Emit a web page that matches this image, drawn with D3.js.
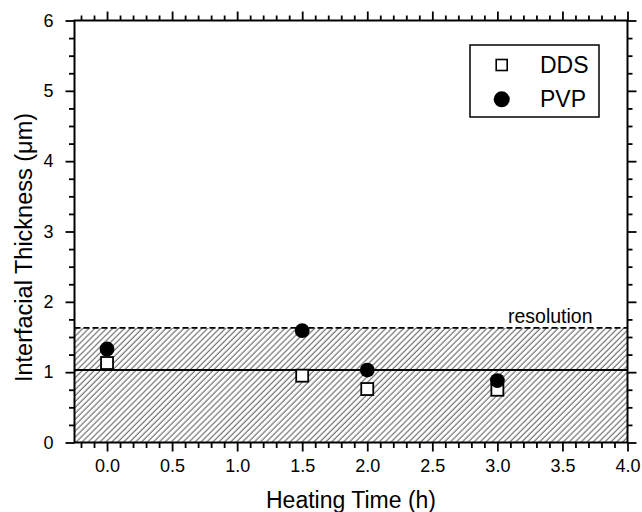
<!DOCTYPE html>
<html>
<head>
<meta charset="utf-8">
<script src="https://cdn.jsdelivr.net/npm/d3@7"></script>
<style>
  body { margin: 0; background: #fff; }
  svg { display: block; font-family: "Liberation Sans", Arial, sans-serif; }
</style>
</head>
<body>
<div id="main-content"></div>
<script>
// values
const hours = [0, 1.5, 2, 3];
const dds = [1.13, 0.95, 0.76, 0.75];
const pvp = [1.33, 1.59, 1.03, 0.88];
const resolutionLevel = 1.63;
const meanLevel = 1.03;
const xTicks = [0, 0.5, 1, 1.5, 2, 2.5, 3, 3.5, 4];
const yTicks = [0, 1, 2, 3, 4, 5, 6];
const seriesNames = ["DDS", "PVP"];

const width = 642, height = 512;
const plotLeft = 74.5, plotRight = 627.5, plotTop = 20.5, plotBottom = 442.5;
const fontFamily = '"Liberation Sans", Arial, sans-serif';

const svg = d3.select("#main-content")
  .append("svg")
  .attr("width", width)
  .attr("height", height);

const x = d3.scaleLinear().domain([-0.25, 4]).range([plotLeft, plotRight]);
const y = d3.scaleLinear().domain([0, 6]).range([plotBottom, plotTop]);

// hatch pattern for the resolution band
const defs = svg.append("defs");
defs.append("pattern")
  .attr("id", "hatch")
  .attr("patternUnits", "userSpaceOnUse")
  .attr("width", 4.2)
  .attr("height", 10)
  .attr("patternTransform", "rotate(45)")
  .append("line")
  .attr("x1", 1).attr("y1", 0)
  .attr("x2", 1).attr("y2", 10)
  .attr("stroke", "#444")
  .attr("stroke-width", 0.9);

svg.append("rect")
  .attr("x", x(-0.25))
  .attr("y", y(resolutionLevel))
  .attr("width", x(4) - x(-0.25))
  .attr("height", y(0) - y(resolutionLevel))
  .attr("fill", "url(#hatch)");

svg.append("line")
  .attr("x1", x(-0.25)).attr("x2", x(4))
  .attr("y1", y(resolutionLevel)).attr("y2", y(resolutionLevel))
  .attr("stroke", "#000")
  .attr("stroke-width", 1.6)
  .attr("stroke-dasharray", "6,3");

svg.append("line")
  .attr("x1", x(-0.25)).attr("x2", x(4))
  .attr("y1", y(meanLevel)).attr("y2", y(meanLevel))
  .attr("stroke", "#000")
  .attr("stroke-width", 2);

svg.append("text")
  .attr("x", 508)
  .attr("y", y(resolutionLevel) - 5)
  .attr("font-size", 19.5)
  .text("resolution");

// markers
const sq = 12;
svg.selectAll("rect.dds")
  .data(hours.map((h, i) => ({h: h, v: dds[i]})))
  .enter()
  .append("rect")
  .attr("class", "dds")
  .attr("x", d => x(d.h) - sq / 2)
  .attr("y", d => y(d.v) - sq / 2)
  .attr("width", sq)
  .attr("height", sq)
  .attr("fill", "#fff")
  .attr("stroke", "#000")
  .attr("stroke-width", 1.8);

svg.selectAll("circle.pvp")
  .data(hours.map((h, i) => ({h: h, v: pvp[i]})))
  .enter()
  .append("circle")
  .attr("class", "pvp")
  .attr("cx", d => x(d.h))
  .attr("cy", d => y(d.v))
  .attr("r", 7.4)
  .attr("fill", "#000");

// axes: major + minor ticks
const minorX = d3.range(-0.2, 4.0001, 0.1).map(v => +v.toFixed(1)).filter(v => !xTicks.includes(v));
const minorY = d3.range(0.25, 6, 0.25).filter(v => !yTicks.includes(v));

function addAxis(axis, tx, ty) {
  const g = svg.append("g")
    .attr("transform", `translate(${tx},${ty})`)
    .call(axis)
    .attr("font-family", fontFamily);
  g.select(".domain").remove();
  g.selectAll("line").attr("stroke", "#000").attr("stroke-width", 1.8);
  return g;
}

addAxis(d3.axisBottom(x).tickValues(xTicks).tickSize(9).tickPadding(8).tickFormat(d3.format(".1f")), 0, plotBottom)
  .selectAll("text").attr("font-size", 18).attr("fill", "#000");
addAxis(d3.axisBottom(x).tickValues(minorX).tickSize(5.5).tickFormat(""), 0, plotBottom);
addAxis(d3.axisBottom(x).tickValues(xTicks).tickSize(-9).tickFormat(""), 0, plotTop);
addAxis(d3.axisBottom(x).tickValues(minorX).tickSize(-5).tickFormat(""), 0, plotTop);

addAxis(d3.axisLeft(y).tickValues(yTicks).tickSize(9).tickPadding(12).tickFormat(d3.format("d")), plotLeft, 0)
  .selectAll("text").attr("font-size", 18).attr("fill", "#000");
addAxis(d3.axisLeft(y).tickValues(minorY).tickSize(5.5).tickFormat(""), plotLeft, 0);
addAxis(d3.axisLeft(y).tickValues(yTicks).tickSize(-9).tickFormat(""), plotRight, 0);
addAxis(d3.axisLeft(y).tickValues(minorY).tickSize(-5).tickFormat(""), plotRight, 0);

// frame
svg.append("rect")
  .attr("x", plotLeft).attr("y", plotTop)
  .attr("width", plotRight - plotLeft).attr("height", plotBottom - plotTop)
  .attr("fill", "none")
  .attr("stroke", "#000")
  .attr("stroke-width", 2);

// axis titles
svg.append("text")
  .attr("x", (plotLeft + plotRight) / 2)
  .attr("y", 508)
  .attr("text-anchor", "middle")
  .attr("font-size", 23)
  .text("Heating Time (h)");

svg.append("text")
  .attr("transform", "translate(32,247.5) rotate(-90)")
  .attr("text-anchor", "middle")
  .attr("font-size", 23.5)
  .text("Interfacial Thickness (\u03bcm)");

// legend
const legend = svg.append("g");
legend.append("rect")
  .attr("x", 470).attr("y", 45)
  .attr("width", 129).attr("height", 72)
  .attr("fill", "#fff")
  .attr("stroke", "#000")
  .attr("stroke-width", 1.5);
legend.append("rect")
  .attr("x", 501.7 - 5.5).attr("y", 65 - 5.5)
  .attr("width", 11).attr("height", 11)
  .attr("fill", "#fff")
  .attr("stroke", "#000")
  .attr("stroke-width", 1.6);
legend.append("circle")
  .attr("cx", 501.7).attr("cy", 99.3)
  .attr("r", 8)
  .attr("fill", "#000");
legend.selectAll("text.lab")
  .data(seriesNames)
  .enter()
  .append("text")
  .attr("class", "lab")
  .attr("x", 540)
  .attr("y", (d, i) => i === 0 ? 73.3 : 106.7)
  .attr("font-size", 23)
  .text(d => d);
</script>
</body>
</html>
